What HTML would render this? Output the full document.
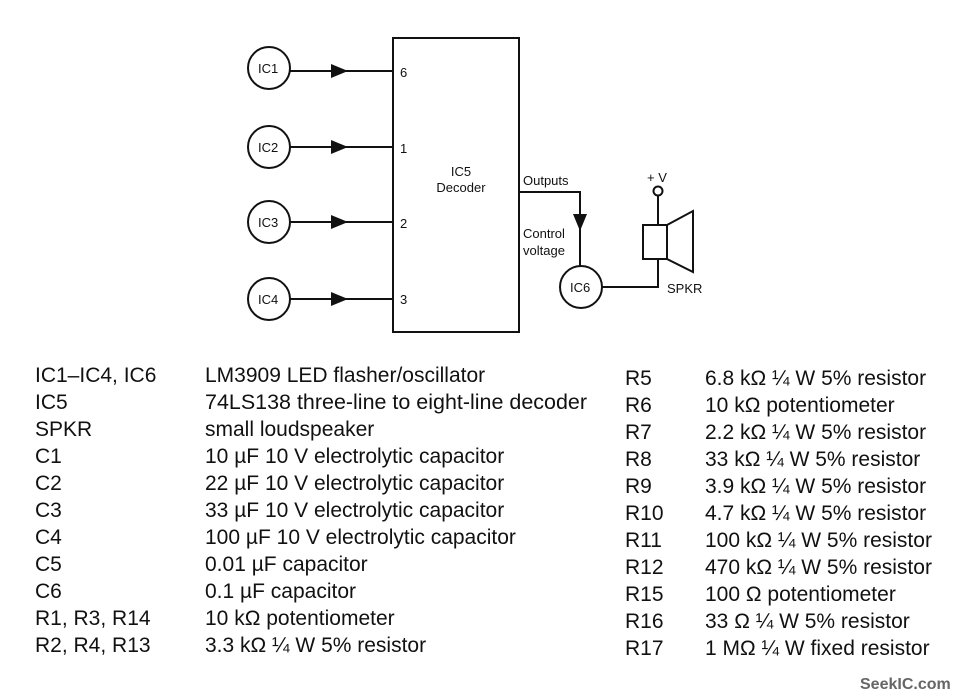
<!DOCTYPE html>
<html><head><meta charset="utf-8"><style>
html,body{margin:0;padding:0;background:#fff;}
svg{display:block;}
text{font-family:"Liberation Sans",sans-serif;fill:#111;}
.t{font-size:21px;}
.s{font-size:13px;}
</style></head><body>
<svg width="980" height="694" viewBox="0 0 980 694" xmlns="http://www.w3.org/2000/svg">
<g stroke="#111" stroke-width="2" fill="none">
<rect x="393" y="38" width="126" height="294"/>
<circle cx="269" cy="68" r="21"/>
<circle cx="269" cy="147" r="21"/>
<circle cx="269" cy="222" r="21"/>
<circle cx="269" cy="299" r="21"/>
<line x1="290" y1="71" x2="393" y2="71"/>
<line x1="290" y1="147" x2="393" y2="147"/>
<line x1="290" y1="222" x2="393" y2="222"/>
<line x1="290" y1="299" x2="393" y2="299"/>
<polyline points="519,192 580,192 580,266"/>
<circle cx="581" cy="287" r="21"/>
<polyline points="602,287 658,287 658,259"/>
<line x1="658" y1="196" x2="658" y2="225"/>
<circle cx="658" cy="191" r="4.5"/>
<rect x="643" y="225" width="24" height="34"/>
<polygon points="667,225 693,211 693,272 667,259"/>
</g>
<g fill="#111">
<polygon points="331,64 348,71 331,78"/>
<polygon points="331,140 348,147 331,154"/>
<polygon points="331,215 348,222 331,229"/>
<polygon points="331,292 348,299 331,306"/>
<polygon points="573,214 587,214 580,231"/>
</g>
<g class="s">
<text x="258" y="73">IC1</text>
<text x="258" y="152">IC2</text>
<text x="258" y="227">IC3</text>
<text x="258" y="304">IC4</text>
<text x="570" y="292">IC6</text>
<text x="400" y="77">6</text>
<text x="400" y="153">1</text>
<text x="400" y="228">2</text>
<text x="400" y="304">3</text>
<text x="461" y="176" text-anchor="middle">IC5</text>
<text x="461" y="192" text-anchor="middle">Decoder</text>
<text x="523" y="185">Outputs</text>
<text x="523" y="238">Control</text>
<text x="523" y="255">voltage</text>
<text x="647" y="182">+ V</text>
<text x="667" y="293">SPKR</text>
</g>
<g class="t">
<text x="35" y="382">IC1–IC4, IC6</text><text x="205" y="382">LM3909 LED flasher/oscillator</text>
<text x="35" y="409">IC5</text><text x="205" y="409" textLength="382" lengthAdjust="spacingAndGlyphs">74LS138 three-line to eight-line decoder</text>
<text x="35" y="436">SPKR</text><text x="205" y="436">small loudspeaker</text>
<text x="35" y="463">C1</text><text x="205" y="463">10 µF 10 V electrolytic capacitor</text>
<text x="35" y="490">C2</text><text x="205" y="490">22 µF 10 V electrolytic capacitor</text>
<text x="35" y="517">C3</text><text x="205" y="517">33 µF 10 V electrolytic capacitor</text>
<text x="35" y="544">C4</text><text x="205" y="544">100 µF 10 V electrolytic capacitor</text>
<text x="35" y="571">C5</text><text x="205" y="571">0.01 µF capacitor</text>
<text x="35" y="598">C6</text><text x="205" y="598">0.1 µF capacitor</text>
<text x="35" y="625">R1, R3, R14</text><text x="205" y="625">10 kΩ potentiometer</text>
<text x="35" y="652">R2, R4, R13</text><text x="205" y="652">3.3 kΩ ¼ W 5% resistor</text>
<text x="625" y="385">R5</text><text x="705" y="385">6.8 kΩ ¼ W 5% resistor</text>
<text x="625" y="412">R6</text><text x="705" y="412">10 kΩ potentiometer</text>
<text x="625" y="439">R7</text><text x="705" y="439">2.2 kΩ ¼ W 5% resistor</text>
<text x="625" y="466">R8</text><text x="705" y="466">33 kΩ ¼ W 5% resistor</text>
<text x="625" y="493">R9</text><text x="705" y="493">3.9 kΩ ¼ W 5% resistor</text>
<text x="625" y="520">R10</text><text x="705" y="520">4.7 kΩ ¼ W 5% resistor</text>
<text x="625" y="547">R11</text><text x="705" y="547">100 kΩ ¼ W 5% resistor</text>
<text x="625" y="574">R12</text><text x="705" y="574">470 kΩ ¼ W 5% resistor</text>
<text x="625" y="601">R15</text><text x="705" y="601">100 Ω potentiometer</text>
<text x="625" y="628">R16</text><text x="705" y="628">33 Ω ¼ W 5% resistor</text>
<text x="625" y="655">R17</text><text x="705" y="655">1 MΩ ¼ W fixed resistor</text>
</g>
<text x="860" y="689" style="font-size:16px;font-weight:bold;fill:#666">SeekIC.com</text>
</svg>
</body></html>
